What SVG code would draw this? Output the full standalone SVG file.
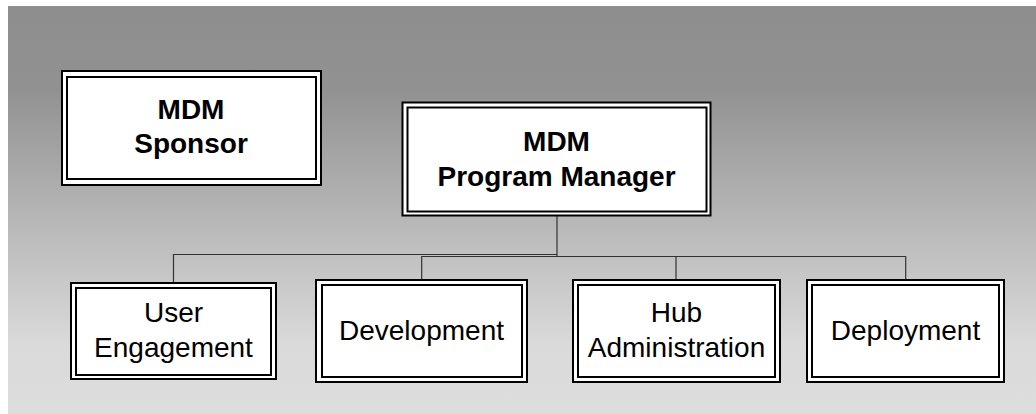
<svg xmlns="http://www.w3.org/2000/svg" width="1036" height="414" viewBox="0 0 1036 414">
<defs>
<linearGradient id="bg" x1="0" y1="0" x2="0" y2="1">
<stop offset="0" stop-color="#8e8e8e"/>
<stop offset="0.2" stop-color="#919191"/>
<stop offset="0.5" stop-color="#b4b4b4"/>
<stop offset="0.83" stop-color="#dadada"/>
<stop offset="1" stop-color="#dddddd"/>
</linearGradient>
</defs>
<style>
.outer{fill:#ffffff;stroke:#000000;stroke-width:2}
.inner{fill:none;stroke:#000000;stroke-width:2}
.b{font-family:"Liberation Sans",Arial,sans-serif;font-weight:bold;font-size:28px;fill:#000000;text-anchor:middle}
.r{font-family:"Liberation Sans",Arial,sans-serif;font-size:28px;fill:#000000;text-anchor:middle}
.conn{fill:none;stroke:#333333;stroke-width:1.2}
</style>
<rect x="8" y="6" width="1028" height="408" fill="url(#bg)"/>
<g id="connectors">
<path class="conn" d="M557,216 V256.5"/>
<path class="conn" d="M557,254.5 H173.5 V282"/>
<path class="conn" d="M557,256.5 H421.7 V279"/>
<path class="conn" d="M557,256.5 H676 V279"/>
<path class="conn" d="M557,256.5 H905.7 V279"/>
</g>
<g id="sponsor">
<rect class="outer" x="62" y="71" width="259" height="114"/>
<rect class="inner" x="67" y="77" width="249" height="102"/>
<text class="b" x="191" y="119">MDM</text>
<text class="b" x="191" y="153">Sponsor</text>
</g>
<g id="program-manager">
<rect class="outer" x="402.5" y="102.5" width="308" height="113"/>
<rect class="inner" x="407.5" y="107.5" width="299" height="104"/>
<text class="b" x="556.5" y="151">MDM</text>
<text class="b" x="556.5" y="186">Program Manager</text>
</g>
<g id="user-engagement">
<rect class="outer" x="71" y="283" width="205" height="96"/>
<rect class="inner" x="76" y="288" width="195" height="87"/>
<text class="r" x="173.5" y="322">User</text>
<text class="r" x="173.5" y="357">Engagement</text>
</g>
<g id="development">
<rect class="outer" x="316" y="280" width="211" height="102"/>
<rect class="inner" x="322" y="285" width="200" height="92"/>
<text class="r" x="421.5" y="340">Development</text>
</g>
<g id="hub-administration">
<rect class="outer" x="573" y="280" width="207" height="102"/>
<rect class="inner" x="578" y="285" width="197" height="92"/>
<text class="r" x="676.5" y="322">Hub</text>
<text class="r" x="676.5" y="357">Administration</text>
</g>
<g id="deployment">
<rect class="outer" x="807" y="280" width="197" height="102"/>
<rect class="inner" x="812" y="285" width="187" height="92"/>
<text class="r" x="905.5" y="339.5">Deployment</text>
</g>
</svg>
